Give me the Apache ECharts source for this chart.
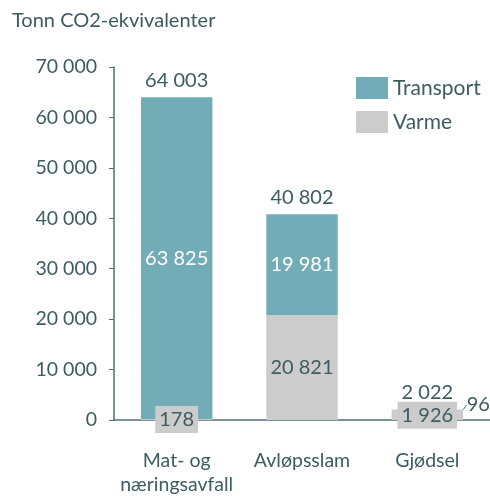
<!DOCTYPE html>
<html>
<head>
<meta charset="utf-8">
<script src="https://cdn.jsdelivr.net/npm/echarts@6/dist/echarts.min.js"></script>
<style>
  html, body { margin: 0; padding: 0; background: #fff; }
  #chart { width: 490px; height: 498px; }
</style>
</head>
<body>
<div id="chart"></div>
<script>
const categories = ['Mat- og\nnæringsavfall', 'Avløpsslam', 'Gjødsel']
const varme = [178, 20821, 1926]
const transport = [63825, 19981, 96]
const totals = [64003, 40802, 2022]
const yTicks = [0, 10000, 20000, 30000, 40000, 50000, 60000, 70000]

const textColor = '#3d5c5f'
const axisColor = '#4f6f72'
const tealColor = '#72adb7'
const greyColor = '#cccccc'
const font = 'Lato'

function fmt(v) {
  return String(v).replace(/\B(?=(\d{3})+(?!\d))/g, ' ')
}

const chart = echarts.init(document.getElementById('chart'))

// small varme values get a grey box so they stay readable on the axis
const varmeData = varme.map(v => {
  if (v < 5000) {
    return { value: v, label: { backgroundColor: greyColor, padding: [4, 4, 3, 4] } }
  }
  return { value: v }
})

// the tiny transport value is moved out to the right with a leader line
const transportData = transport.map(v => {
  if (v < 1000) {
    return {
      value: v,
      label: { color: textColor },
      labelLine: { show: true, lineStyle: { color: axisColor, width: 1 } }
    }
  }
  return { value: v }
})

chart.setOption({
  animation: false,
  textStyle: { fontFamily: font },
  title: {
    text: 'Tonn CO2-ekvivalenter',
    left: 7,
    top: 6,
    textStyle: { fontFamily: font, fontSize: 20, fontWeight: 'normal', color: textColor }
  },
  legend: {
    data: ['Transport', 'Varme'],
    orient: 'vertical',
    left: 351,
    top: 72,
    itemWidth: 32,
    itemHeight: 22,
    itemGap: 12,
    icon: 'rect',
    textStyle: { fontFamily: font, fontSize: 21, color: textColor }
  },
  grid: {
    left: 114,
    right: 0,
    top: 67,
    bottom: 78
  },
  xAxis: {
    type: 'category',
    data: categories,
    axisLine: { lineStyle: { color: axisColor, width: 1.5 } },
    axisTick: { show: false },
    axisLabel: {
      interval: 0,
      color: textColor,
      fontFamily: font,
      fontSize: 19.5,
      lineHeight: 24,
      margin: 29
    }
  },
  yAxis: {
    type: 'value',
    min: yTicks[0],
    max: yTicks[yTicks.length - 1],
    interval: yTicks[1] - yTicks[0],
    axisLine: { show: true, lineStyle: { color: axisColor, width: 1.5 } },
    axisTick: { show: true, length: 5, lineStyle: { color: axisColor } },
    splitLine: { show: false },
    axisLabel: {
      color: textColor,
      fontFamily: font,
      fontSize: 19.5,
      margin: 17,
      formatter: v => fmt(v)
    }
  },
  series: [
    {
      name: 'Varme',
      type: 'bar',
      stack: 'sum',
      barWidth: '57%',
      itemStyle: { color: greyColor },
      label: {
        show: true,
        position: 'inside',
        color: textColor,
        fontFamily: font,
        fontSize: 20,
        formatter: p => fmt(p.value)
      },
      data: varmeData
    },
    {
      name: 'Transport',
      type: 'bar',
      stack: 'sum',
      itemStyle: { color: tealColor },
      label: {
        show: true,
        position: 'inside',
        color: '#ffffff',
        fontFamily: font,
        fontSize: 20,
        formatter: p => fmt(p.value)
      },
      labelLayout: p => (p.dataIndex === 2 ? { dx: 51, dy: -5 } : {}),
      data: transportData
    },
    {
      name: 'Total',
      type: 'bar',
      stack: 'sum',
      silent: true,
      itemStyle: { color: 'transparent' },
      label: {
        show: true,
        position: 'top',
        distance: 7,
        color: textColor,
        fontFamily: font,
        fontSize: 20,
        formatter: p => fmt(totals[p.dataIndex])
      },
      data: totals.map(() => 0)
    }
  ]
})
</script>
</body>
</html>
